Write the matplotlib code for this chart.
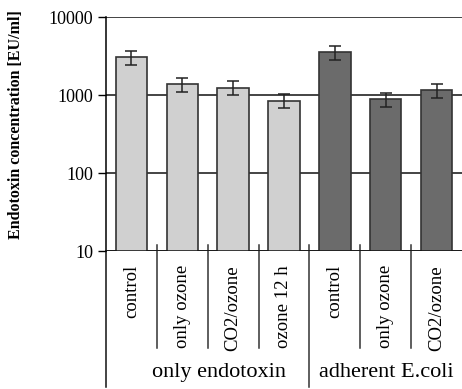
import matplotlib
matplotlib.use("Agg")
import matplotlib.pyplot as plt
import numpy as np

# values (log scale)
categories = ["control", "only ozone", "CO2/ozone", "ozone 12 h",
              "control", "only ozone", "CO2/ozone"]
values = [3050, 1380, 1240, 850, 3520, 880, 1160]
errors = [650, 280, 250, 170, 680, 180, 240]
groups = ["only endotoxin", "adherent E.coli"]
group_sizes = [4, 3]
colors = ["#d0d0d0"] * 4 + ["#6b6b6b"] * 3

plt.rcParams["font.family"] = ["Liberation Serif", "DejaVu Serif"]

fig = plt.figure(figsize=(4.62, 3.89), dpi=100)
ax = fig.add_axes([106 / 462, 1 - 251 / 389, 356 / 462, 234 / 389])

x = np.arange(len(values))
ax.bar(x, values, width=0.62, color=colors, edgecolor="#333333",
       linewidth=1.2, zorder=3)
ax.errorbar(x, values, yerr=errors, fmt="none", ecolor="#222222",
            elinewidth=1.1, capsize=4.5, capthick=1.1, zorder=4)

ax.set_yscale("log")
ax.set_ylim(10, 10000)
ax.set_xlim(-0.5, len(values) - 0.5)
ax.set_yticks([10, 100, 1000, 10000])
ax.set_yticklabels(["10", "100", "1000", "10000"])
ax.yaxis.set_minor_locator(matplotlib.ticker.NullLocator())
ax.tick_params(axis="y", direction="out", length=6, width=1, labelsize=13, pad=3)
ax.set_xticks([])
ax.grid(axis="y", color="#111111", linewidth=1.1, zorder=0)

for s in ["top", "right", "bottom"]:
    ax.spines[s].set_visible(False)
ax.spines["left"].set_linewidth(1.1)
ax.axhline(10, color="#111111", linewidth=1.1, zorder=5)

# category table below the axis
tr = ax.get_xaxis_transform()
for i in range(1, len(values)):
    bottom = -0.415
    if i == group_sizes[0]:
        bottom = -0.58
    ax.plot([i - 0.5, i - 0.5], [0.026, bottom], color="#333333",
            linewidth=1.1, transform=tr, clip_on=False)
ax.plot([-0.5, -0.5], [0, -0.58], color="#111111", linewidth=1.1,
        transform=tr, clip_on=False)

for i, lab in enumerate(categories):
    ax.text(i, -0.06, lab, rotation=90, ha="center", va="top",
            fontsize=13.5, transform=tr)

ax.text(1.72, -0.518, groups[0], ha="center", va="center", fontsize=16,
        transform=tr)
ax.text(5.02, -0.518, groups[1], ha="center", va="center", fontsize=16,
        transform=tr)

fig.text(16 / 462, 1 - 125 / 389, "Endotoxin concentration [EU/ml]",
         rotation=90, ha="center", va="center", fontsize=11.5, fontweight="bold")

fig.savefig("out.png", dpi=100)
